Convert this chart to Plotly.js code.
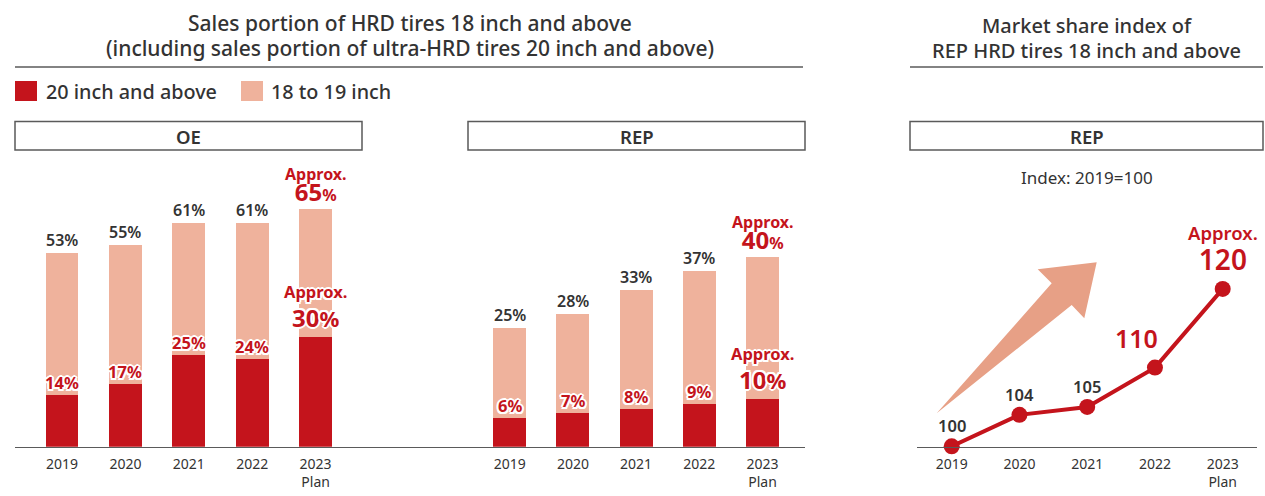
<!DOCTYPE html>
<html>
<head>
<meta charset="utf-8">
<script src="https://cdn.plot.ly/plotly-3.0.1.min.js"></script>
<style>html,body{margin:0;padding:0;background:#fff;}#chart{width:1265px;height:496px;}</style>
</head>
<body>
<div id="chart"></div>
<script>
// ---------- DATA ----------
const years = ['2019', '2020', '2021', '2022', '2023<br>Plan'];
const seriesNames = ['20 inch and above', '18 to 19 inch'];
const panelNames = ['OE', 'REP', 'REP'];
const oeTotal = [53, 55, 61, 61, 65];
const oe20 = [14, 17, 25, 24, 30];
const repTotal = [25, 28, 33, 37, 40];
const rep20 = [6, 7, 8, 9, 10];
const shareIndex = [100, 104, 105, 110, 120];
const leftTitle = ['Sales portion of HRD tires 18 inch and above',
                   '(including sales portion of ultra-HRD tires 20 inch and above)'];
const rightTitle = ['Market share index of', 'REP HRD tires 18 inch and above'];
const indexNote = 'Index: 2019=100';

// ---------- STYLE ----------
const W = 1265, H = 496;
const RED = '#c4141c', PINK = '#efb29c', ARROW = '#e7a086', DARK = '#333333', LINEC = '#5a5a5a';
const FONT = 'Noto Sans';
const px = x => x / W;
const py = y => 1 - y / H;
const baseY = 446.7;
const yDom = [py(baseY), 1];
const OUTLINE = '-1.5px -1.5px 0 #fff, 1.5px -1.5px 0 #fff, -1.5px 1.5px 0 #fff, 1.5px 1.5px 0 #fff, 0 -2px 0 #fff, 0 2px 0 #fff, -2px 0 0 #fff, 2px 0 0 #fff, 0 0 3px #fff';
const idx = years.map((_, i) => i);
const isPlan = i => i === years.length - 1;

const traces = [];
const annotations = [];

function barPanel(total, small, xa, ya) {
  const rest = total.map((t, i) => t - small[i]);
  traces.push({type: 'bar', x: idx, y: small, name: seriesNames[0], xaxis: xa, yaxis: ya,
    marker: {color: RED}, width: 0.52, showlegend: false, hoverinfo: 'skip'});
  traces.push({type: 'bar', x: idx, y: rest, name: seriesNames[1], xaxis: xa, yaxis: ya,
    marker: {color: PINK}, width: 0.52, showlegend: false, hoverinfo: 'skip'});
  total.forEach((t, i) => {
    if (isPlan(i)) {
      annotations.push({xref: xa, yref: ya, x: i, y: t, yanchor: 'bottom', yshift: 0, showarrow: false,
        borderpad: 0,
        text: '<span style="font-size:16px">Approx.</span><br><span style="font-size:24px">' + t + '</span>%',
        font: {family: FONT, size: 16, color: RED, weight: 700}});
    } else {
      annotations.push({xref: xa, yref: ya, x: i, y: t, yanchor: 'bottom', yshift: 1, showarrow: false,
        borderpad: 0, text: t + '%', font: {family: FONT, size: 16, color: DARK, weight: 600}});
    }
  });
  small.forEach((s, i) => {
    if (isPlan(i)) {
      annotations.push({xref: xa, yref: ya, x: i, y: s, yanchor: 'bottom', yshift: 2, showarrow: false,
        borderpad: 0,
        text: '<span style="font-size:16.5px">Approx.</span><br><span style="font-size:24px">' + s + '</span>%',
        font: {family: FONT, size: 22, color: RED, weight: 700, shadow: OUTLINE}});
    } else {
      annotations.push({xref: xa, yref: ya, x: i, y: s, yanchor: 'bottom', yshift: 0, showarrow: false,
        borderpad: 0, text: s + '%',
        font: {family: FONT, size: 16.5, color: RED, weight: 700, shadow: OUTLINE}});
    }
  });
}

barPanel(oeTotal, oe20, 'x', 'y');
barPanel(repTotal, rep20, 'x2', 'y2');

// line panel
traces.push({type: 'scatter', mode: 'lines+markers', x: idx, y: shareIndex, xaxis: 'x3', yaxis: 'y3',
  line: {color: RED, width: 4}, marker: {color: RED, size: 16}, cliponaxis: false,
  showlegend: false, hoverinfo: 'skip'});
shareIndex.forEach((v, i) => {
  if (isPlan(i)) {
    annotations.push({xref: 'x3', yref: 'y3', x: i, y: v, yanchor: 'bottom', yshift: 10, showarrow: false,
      borderpad: 0,
      text: '<span style="font-size:18.5px">Approx.</span><br><span style="font-size:28px">' + v + '</span>',
      font: {family: FONT, size: 23, color: RED, weight: 600}});
  } else if (i === years.length - 2) {
    annotations.push({xref: 'x3', yref: 'y3', x: i, y: v, yanchor: 'bottom', yshift: 12, xshift: -18,
      showarrow: false, borderpad: 0, text: String(v),
      font: {family: FONT, size: 25, color: RED, weight: 600}});
  } else {
    annotations.push({xref: 'x3', yref: 'y3', x: i, y: v, yanchor: 'bottom', yshift: 8, showarrow: false,
      borderpad: 0, text: String(v), font: {family: FONT, size: 16.5, color: DARK, weight: 600}});
  }
});

// titles
[[leftTitle, 410, [23, 48], 21], [rightTitle, 1086.5, [25, 50], 20]].forEach(([lines, cx, ys, fs]) => {
  lines.forEach((t, k) => annotations.push({xref: 'paper', yref: 'paper', x: px(cx), y: py(ys[k]),
    xanchor: 'center', yanchor: 'middle', showarrow: false, text: t,
    font: {family: FONT, size: fs, color: DARK, weight: 500}}));
});

// legend
const legendText = [[44, seriesNames[0]], [269, seriesNames[1]]];
legendText.forEach(([x, t]) => annotations.push({xref: 'paper', yref: 'paper', x: px(x), y: py(91),
  xanchor: 'left', yanchor: 'middle', showarrow: false, text: t,
  font: {family: FONT, size: 19.8, color: DARK, weight: 500}}));

// panel boxes
const boxes = [[15, 362], [468, 805], [910, 1263]];
boxes.forEach(([a, b], k) => annotations.push({xref: 'paper', yref: 'paper', x: px((a + b) / 2), y: py(137),
  xanchor: 'center', yanchor: 'middle', showarrow: false, text: panelNames[k],
  font: {family: FONT, size: 18.5, color: DARK, weight: 600}}));

annotations.push({xref: 'paper', yref: 'paper', x: px(1086.5), y: py(177), xanchor: 'center', yanchor: 'middle',
  showarrow: false, text: indexNote, font: {family: FONT, size: 17, color: DARK, weight: 400}});

const shapes = [
  {type: 'line', xref: 'paper', yref: 'paper', x0: px(15), x1: px(803), y0: py(67), y1: py(67), line: {color: LINEC, width: 1.5}},
  {type: 'line', xref: 'paper', yref: 'paper', x0: px(910), x1: px(1263), y0: py(67), y1: py(67), line: {color: LINEC, width: 1.5}},
  {type: 'rect', xref: 'paper', yref: 'paper', x0: px(15), x1: px(37), y0: py(81), y1: py(101), fillcolor: RED, line: {width: 0}},
  {type: 'rect', xref: 'paper', yref: 'paper', x0: px(241), x1: px(263), y0: py(81), y1: py(101), fillcolor: PINK, line: {width: 0}}
];
boxes.forEach(([a, b]) => shapes.push({type: 'rect', xref: 'paper', yref: 'paper', x0: px(a), x1: px(b),
  y0: py(150), y1: py(121.5), line: {color: LINEC, width: 1.5}, fillcolor: 'rgba(0,0,0,0)'}));
// decorative arrow
const arrowPts = [[936.7, 413.3], [1051.7, 283.3], [1037.7, 269.3], [1096.7, 262.3], [1084.3, 318.3], [1071.7, 305]];
shapes.push({type: 'path', xref: 'paper', yref: 'paper', layer: 'below', fillcolor: ARROW, line: {width: 0},
  path: 'M' + arrowPts.map(p => px(p[0]).toFixed(5) + ',' + py(p[1]).toFixed(5)).join(' L') + ' Z'});

const xbase = {tickmode: 'array', tickvals: idx, ticktext: years, showgrid: false, zeroline: false,
  showline: true, linecolor: LINEC, linewidth: 1.5, ticks: '', ticklabelstandoff: 4,
  tickfont: {family: FONT, size: 14, color: DARK}, fixedrange: true};
const ybase = {visible: false, showgrid: false, zeroline: false, fixedrange: true, domain: yDom};

// axis geometry derived from pixel layout
function xr(d0, d1, c0, step) { return [-(c0 - d0) / step, -(c0 - d0) / step + (d1 - d0) / step]; }

const layout = {
  width: W, height: H, autosize: false,
  margin: {l: 0, r: 0, t: 0, b: 0, pad: 0},
  paper_bgcolor: '#ffffff', plot_bgcolor: 'rgba(0,0,0,0)',
  barmode: 'stack', showlegend: false, hovermode: false,
  font: {family: FONT, color: DARK},
  xaxis: Object.assign({}, xbase, {domain: [px(15), px(420)], range: xr(15, 420, 62, 63.4), anchor: 'y'}),
  xaxis2: Object.assign({}, xbase, {domain: [px(420), px(805)], range: xr(420, 805, 509.7, 63.2), anchor: 'y2'}),
  xaxis3: Object.assign({}, xbase, {domain: [px(917), px(1257)], range: xr(917, 1257, 951.7, 67.75), anchor: 'y3'}),
  yaxis: Object.assign({}, ybase, {range: [0, baseY / 3.66], anchor: 'x'}),
  yaxis2: Object.assign({}, ybase, {range: [0, baseY / 4.75], anchor: 'x2'}),
  yaxis3: Object.assign({}, ybase, {range: [99.95, 99.95 + baseY / 7.87], anchor: 'x3'}),
  annotations: annotations,
  shapes: shapes
};

Plotly.newPlot('chart', traces, layout, {staticPlot: true, displayModeBar: false});
</script>
</body>
</html>
